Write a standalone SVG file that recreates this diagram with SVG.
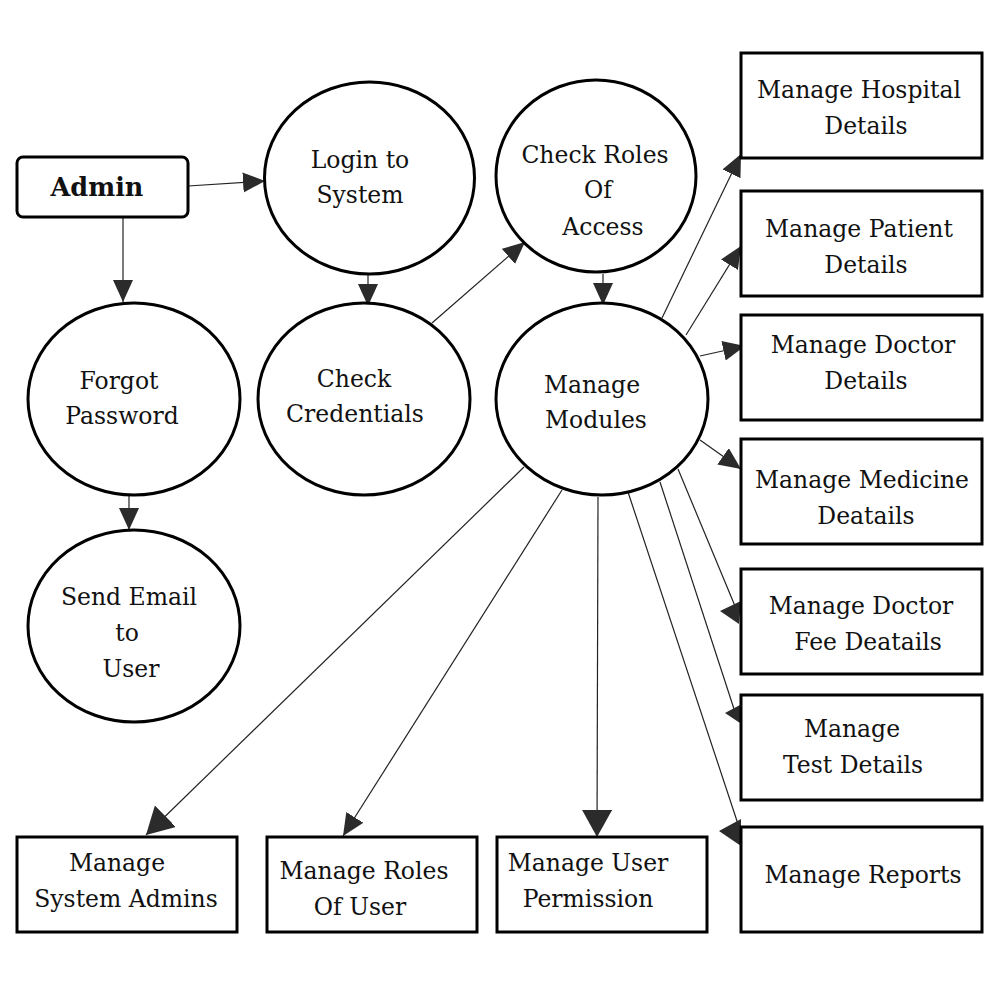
<svg xmlns="http://www.w3.org/2000/svg" width="1000" height="1000" viewBox="0 0 1000 1000">
<style>
.n{fill:#fff;stroke:#000;stroke-width:3}
.t{font-family:"DejaVu Serif","Liberation Serif",serif;font-size:23.5px;fill:#111;text-anchor:middle}
.b{font-weight:bold;font-size:25.5px}
.c{stroke:#222;stroke-width:1.2;fill:none}
.h{fill:#2b2b2b;stroke:none}
</style>
<defs>
<marker id="a" markerUnits="userSpaceOnUse" markerWidth="24" markerHeight="22" refX="22" refY="10" orient="auto"><path d="M0,0 L22,10 L0,20 Z" fill="#2b2b2b"/></marker>
<marker id="L" markerUnits="userSpaceOnUse" markerWidth="30" markerHeight="32" refX="27" refY="15" orient="auto"><path d="M0,0 L27,15 L0,30 Z" fill="#2b2b2b"/></marker>
</defs>
<rect width="1000" height="1000" fill="#fff"/>
<g id="connectors">
<line class="c" x1="188" y1="186" x2="265" y2="181" marker-end="url(#a)"/>
<line class="c" x1="123" y1="217" x2="123" y2="302" marker-end="url(#a)"/>
<line class="c" x1="368" y1="274" x2="368" y2="306" marker-end="url(#a)"/>
<line class="c" x1="432" y1="323" x2="525" y2="242" marker-end="url(#a)"/>
<line class="c" x1="603" y1="274" x2="603" y2="305" marker-end="url(#a)"/>
<line class="c" x1="129" y1="495" x2="129" y2="530" marker-end="url(#a)"/>
<line class="c" x1="662" y1="318" x2="741" y2="154" marker-end="url(#a)"/>
<line class="c" x1="686" y1="335" x2="741" y2="246" marker-end="url(#a)"/>
<line class="c" x1="700" y1="356" x2="745" y2="346" marker-end="url(#a)"/>
<line class="c" x1="700" y1="440" x2="741" y2="469" marker-end="url(#a)"/>
<line class="c" x1="678" y1="469" x2="735" y2="606"/>
<polygon class="h" points="720,611 741,601 739,624"/>
<line class="c" x1="660" y1="482" x2="735" y2="712"/>
<polygon class="h" points="725,713 740,705 740,723"/>
<line class="c" x1="628" y1="492" x2="738" y2="824"/>
<polygon class="h" points="719,831 741,819 741,846"/>
<line class="c" x1="524" y1="467" x2="146" y2="835" marker-end="url(#L)"/>
<line class="c" x1="562" y1="490" x2="343" y2="836" marker-end="url(#a)"/>
<line class="c" x1="598" y1="497" x2="597" y2="837" marker-end="url(#L)"/>
</g>
<g id="admin"><rect class="n" x="17" y="157" width="171" height="60" rx="6"/><text class="t b" x="97" y="196">Admin</text></g>
<g id="login"><ellipse class="n" cx="369.5" cy="178" rx="105" ry="96"/><text class="t" x="360" y="168">Login to</text><text class="t" x="360" y="203">System</text></g>
<g id="roles-access"><ellipse class="n" cx="596" cy="176" rx="100" ry="96"/><text class="t" x="595" y="163">Check Roles</text><text class="t" x="598" y="198">Of</text><text class="t" x="603" y="235">Access</text></g>
<g id="forgot"><ellipse class="n" cx="134" cy="399" rx="106" ry="96"/><text class="t" x="119" y="389">Forgot</text><text class="t" x="122" y="424">Password</text></g>
<g id="credentials"><ellipse class="n" cx="364" cy="399" rx="106" ry="96"/><text class="t" x="354" y="387">Check</text><text class="t" x="355" y="422">Credentials</text></g>
<g id="modules"><ellipse class="n" cx="602" cy="399" rx="106" ry="96"/><text class="t" x="592" y="393">Manage</text><text class="t" x="596" y="428">Modules</text></g>
<g id="email"><ellipse class="n" cx="134" cy="626" rx="106" ry="96"/><text class="t" x="129" y="605">Send Email</text><text class="t" x="127" y="641">to</text><text class="t" x="131" y="677">User</text></g>
<g id="hospital"><rect class="n" x="741" y="53" width="241" height="105"/><text class="t" x="859" y="98">Manage Hospital</text><text class="t" x="866" y="134">Details</text></g>
<g id="patient"><rect class="n" x="741" y="191" width="241" height="105"/><text class="t" x="859" y="237">Manage Patient</text><text class="t" x="866" y="273">Details</text></g>
<g id="doctor"><rect class="n" x="741" y="315" width="241" height="105"/><text class="t" x="863" y="353">Manage Doctor</text><text class="t" x="866" y="389">Details</text></g>
<g id="medicine"><rect class="n" x="741" y="439" width="241" height="105"/><text class="t" x="862" y="488">Manage Medicine</text><text class="t" x="866" y="524">Deatails</text></g>
<g id="fee"><rect class="n" x="741" y="569" width="241" height="105"/><text class="t" x="861" y="614">Manage Doctor</text><text class="t" x="868" y="650">Fee Deatails</text></g>
<g id="test"><rect class="n" x="741" y="695" width="241" height="105"/><text class="t" x="852" y="737">Manage</text><text class="t" x="853" y="773">Test Details</text></g>
<g id="reports"><rect class="n" x="741" y="827" width="241" height="105"/><text class="t" x="863" y="883">Manage Reports</text></g>
<g id="sysadmins"><rect class="n" x="17" y="837" width="220" height="95"/><text class="t" x="117" y="871">Manage</text><text class="t" x="126" y="907">System Admins</text></g>
<g id="userroles"><rect class="n" x="267" y="837" width="210" height="95"/><text class="t" x="364" y="879">Manage Roles</text><text class="t" x="360" y="915">Of User</text></g>
<g id="permission"><rect class="n" x="497" y="837" width="210" height="95"/><text class="t" x="588" y="871">Manage User</text><text class="t" x="588" y="907">Permission</text></g>
</svg>
